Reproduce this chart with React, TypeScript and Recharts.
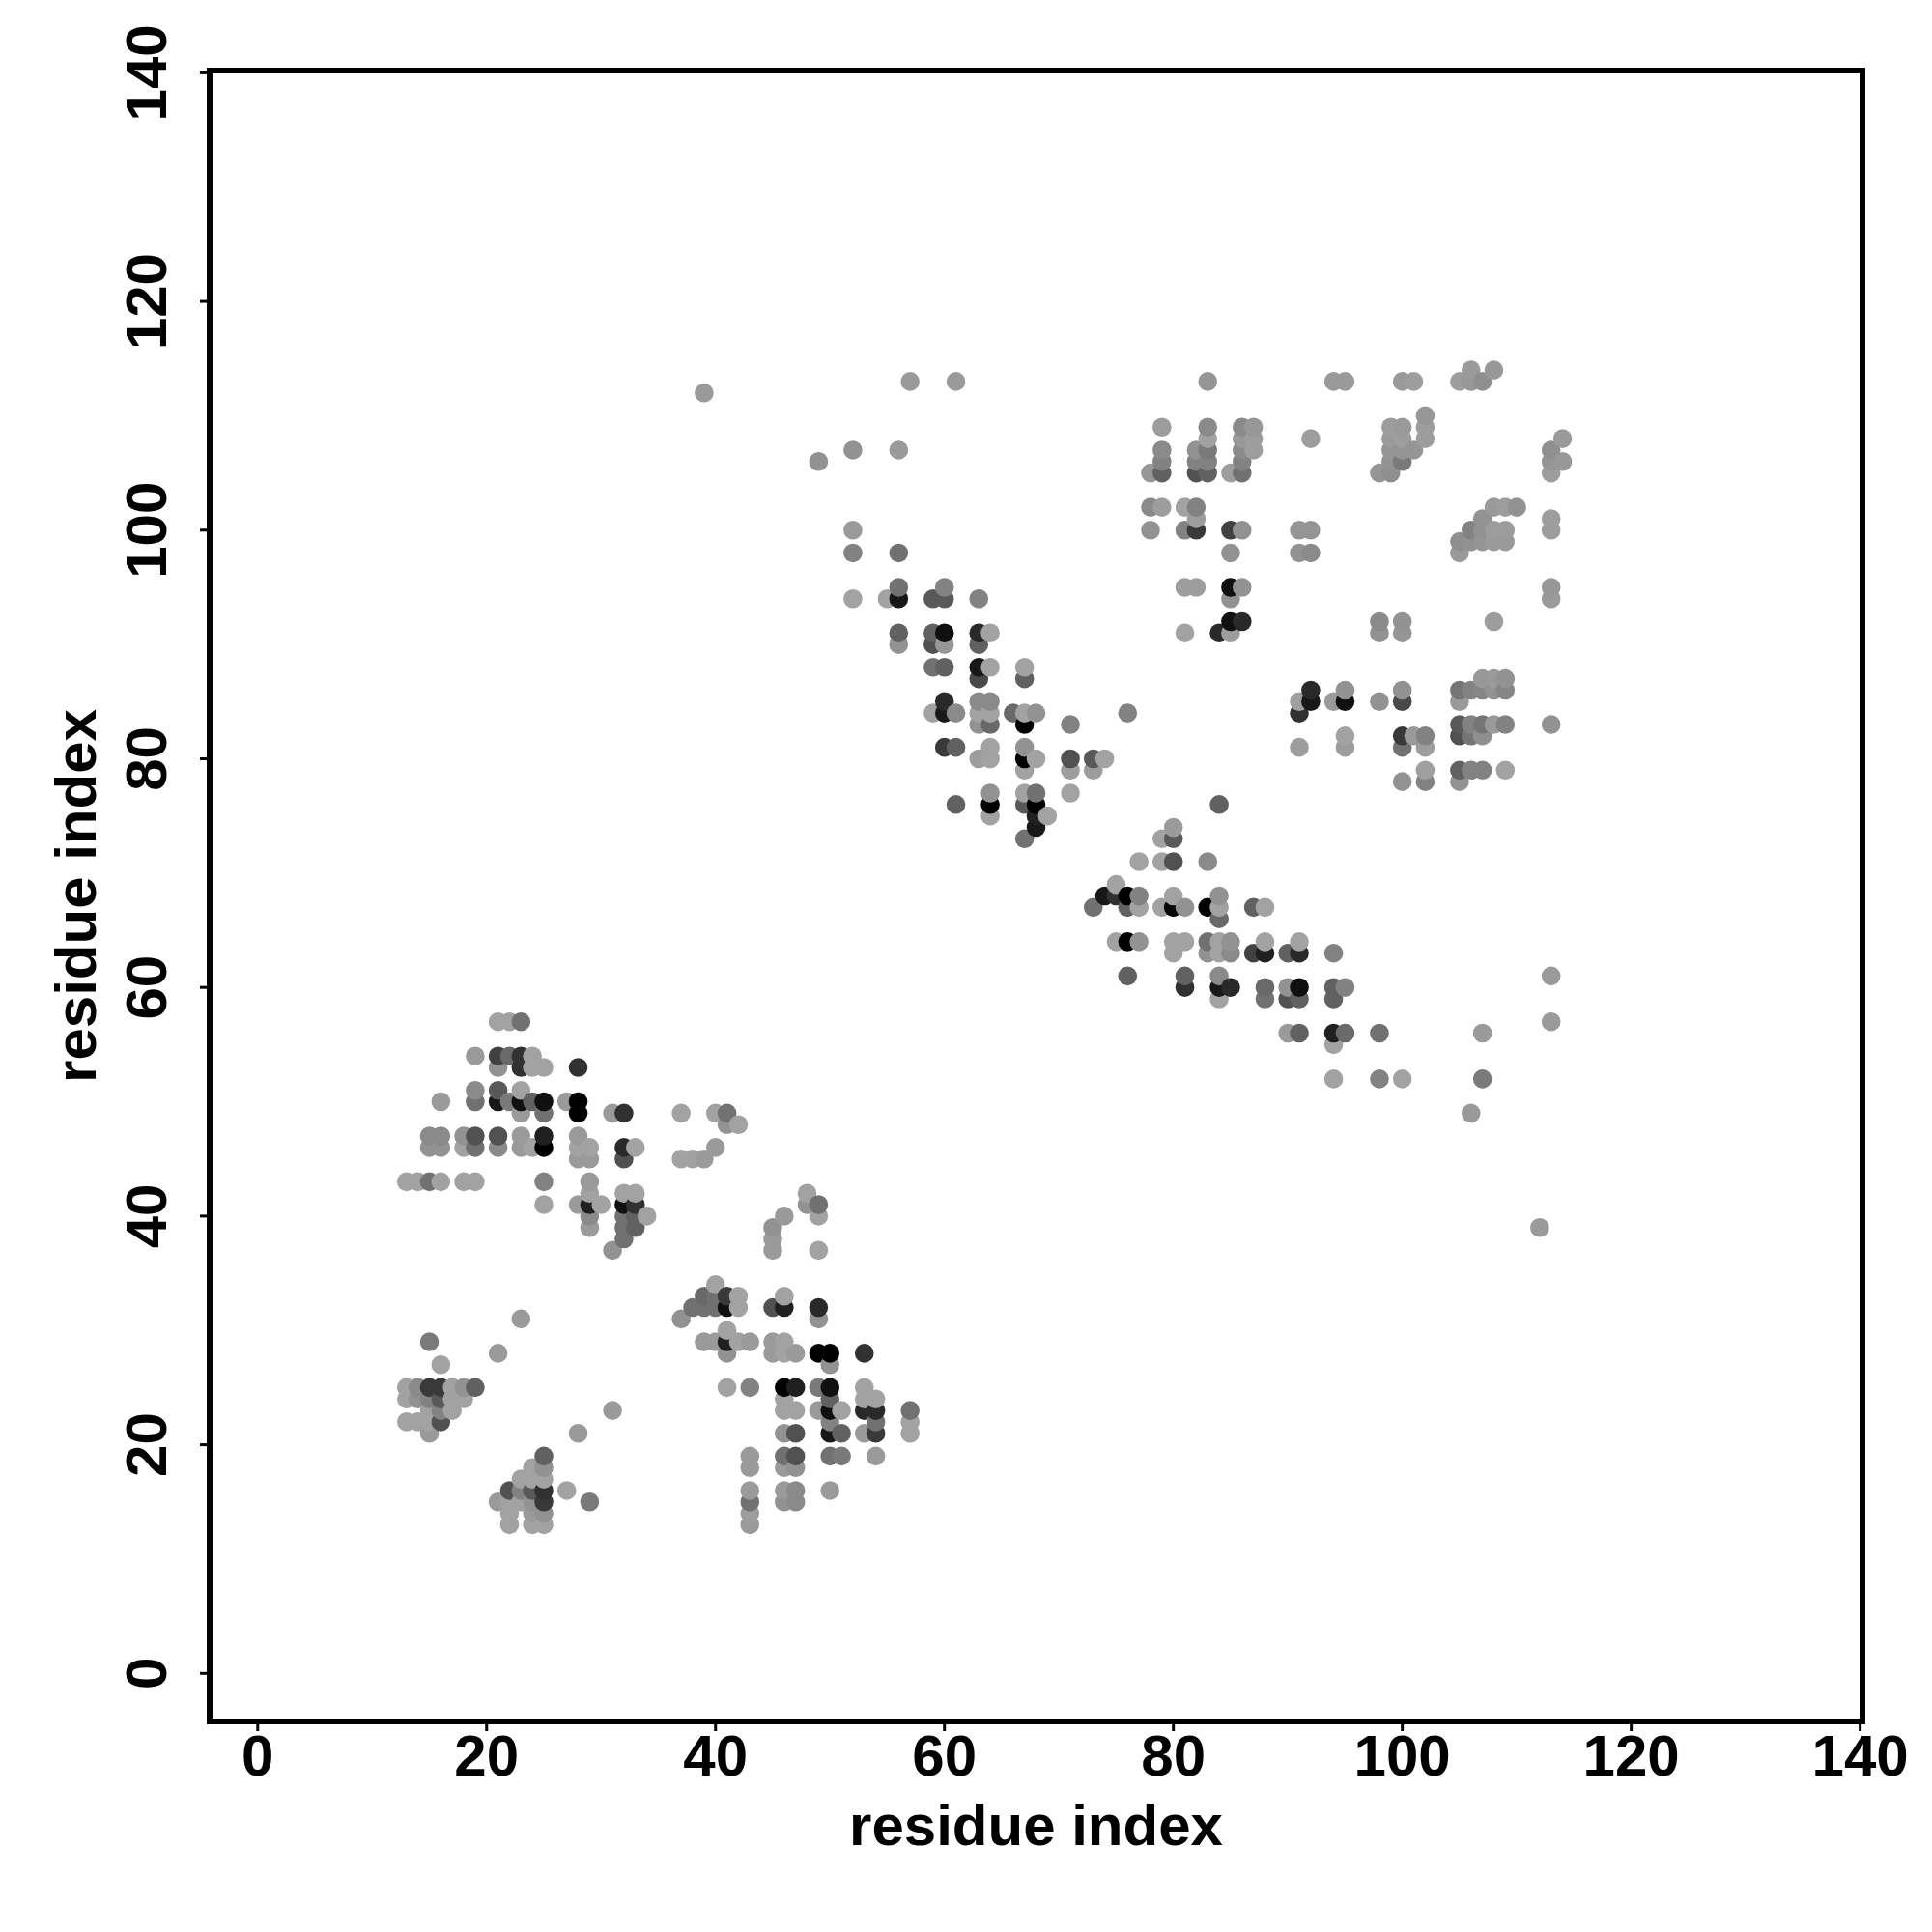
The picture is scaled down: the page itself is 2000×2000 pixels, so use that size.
import { ScatterChart, Scatter, XAxis, YAxis, ReferenceArea } from 'recharts';

// each contact: [residue i, residue j, darkness 0 (faint) .. 10 (strong)]
type Contact = [number, number, number];

const axisTicks = [0, 20, 40, 60, 80, 100, 120, 140];
const axisDomain = [-4.2, 140.2];

const upperSheetContacts: Contact[] = [
   [21, 57, 0], [22, 57, 0], [23, 57, 3],
   [19, 54, 0.5], [21, 54, 6], [22, 54, 3.5], [23, 54, 7], [24, 54, 0],
   [21, 53, 1], [23, 53, 7], [24, 53, 0], [25, 53, 0], [28, 53, 7],
   [19, 51, 1.5], [21, 51, 4.5], [23, 51, 0],
   [16, 50, 0.5], [19, 50, 3], [21, 50, 8.5], [22, 50, 2.5], [23, 50, 9], [24, 50, 4], [25, 50, 9], [27, 50, 0.5], [28, 50, 10],
   [23, 49, 0.5], [25, 49, 3], [28, 49, 10], [31, 49, 0.5], [32, 49, 7], [37, 49, 0], [40, 49, 0], [41, 49, 3],
   [41, 48, 1], [42, 48, 0],
   [15, 47, 1.5], [16, 47, 1.5], [18, 47, 1], [19, 47, 5], [21, 47, 5], [23, 47, 0.5], [25, 47, 8], [28, 47, 0.5],
   [15, 46, 1], [16, 46, 1], [18, 46, 0], [19, 46, 3], [21, 46, 1.5], [23, 46, 0.5], [24, 46, 0], [25, 46, 10], [28, 46, 0], [29, 46, 0], [32, 46, 7.5], [33, 46, 0], [40, 46, 0.5],
   [28, 45, 0.5], [29, 45, 0.5], [32, 45, 5], [37, 45, 0], [38, 45, 0], [39, 45, 0.5],
   [13, 43, 0], [14, 43, 0], [15, 43, 3], [16, 43, 0], [18, 43, 0], [19, 43, 0], [25, 43, 2], [29, 43, 0.5],
   [29, 42, 0], [32, 42, 0], [33, 42, 0],
   [25, 41, 0], [28, 41, 0.5], [29, 41, 8], [30, 41, 0], [32, 41, 9], [33, 41, 7],
   [29, 40, 1.5], [32, 40, 3], [33, 40, 4], [34, 40, 0],
   [29, 39, 0.5], [32, 39, 3], [33, 39, 4], [32, 38, 3], [31, 37, 1],
];

const lowerLeftContacts: Contact[] = [
   [15, 29, 2.5], [16, 27, 0], [21, 28, 0.5], [23, 31, 0.5], [31, 23, 0.5], [28, 21, 0.5],
   [13, 25, 0], [14, 25, 1.5], [15, 25, 6.5], [16, 25, 6.5], [17, 25, 0], [18, 25, 1], [19, 25, 4],
   [13, 24, 0], [14, 24, 1], [15, 24, 2], [16, 24, 4.5], [17, 24, 0], [18, 24, 0],
   [15, 23, 0], [16, 23, 2], [17, 23, 0],
   [13, 22, 0], [14, 22, 0], [15, 22, 0], [16, 22, 5],
   [15, 21, 0.5],
   [25, 19, 4], [24, 18, 0], [25, 18, 1], [23, 17, 0], [24, 17, 0], [25, 17, 0],
   [22, 16, 5], [23, 16, 2], [24, 16, 4.5], [25, 16, 7], [27, 16, 0],
   [21, 15, 0.5], [22, 15, 0], [23, 15, 0], [24, 15, 1], [25, 15, 6.5], [29, 15, 2.5],
   [22, 14, 0], [24, 14, 0.5], [25, 14, 1],
   [22, 13, 0], [24, 13, 0], [25, 13, 0],
];

const lowerMiddleContacts: Contact[] = [
   [48, 42, 0], [48, 41, 1], [49, 41, 3], [49, 40, 0], [46, 40, 0.5], [45, 39, 1], [45, 38, 0.5], [45, 37, 0.5], [49, 37, 0],
   [40, 34, 0],
   [39, 33, 3.5], [40, 33, 3], [41, 33, 6.5], [42, 33, 0], [46, 33, 0],
   [38, 32, 3], [39, 32, 3], [40, 32, 3], [41, 32, 9], [42, 32, 0], [45, 32, 5], [46, 32, 8], [49, 32, 7.5],
   [37, 31, 1], [49, 31, 1], [41, 30, 0],
   [39, 29, 0.5], [40, 29, 0.5], [41, 29, 8], [42, 29, 0], [43, 29, 0.5], [45, 29, 0.5], [46, 29, 0],
   [41, 28, 1], [45, 28, 0.5], [46, 28, 0], [47, 28, 0.5], [49, 28, 10], [50, 28, 10], [53, 28, 7],
   [50, 27, 1],
   [41, 25, 0], [43, 25, 2], [46, 25, 10], [47, 25, 8], [49, 25, 2.5], [50, 25, 9], [53, 25, 0],
   [46, 24, 0], [50, 24, 4], [53, 24, 0], [54, 24, 0],
   [46, 23, 0], [47, 23, 0], [49, 23, 0.5], [50, 23, 9], [51, 23, 0], [53, 23, 7.5], [54, 23, 7.5], [57, 23, 3],
   [50, 22, 2], [54, 22, 3], [57, 22, 0],
   [46, 21, 1], [47, 21, 5], [50, 21, 8.5], [51, 21, 4], [53, 21, 0.5], [54, 21, 6.5], [57, 21, 0],
   [43, 19, 0.5], [46, 19, 3], [47, 19, 5], [50, 19, 3], [51, 19, 2.5], [54, 19, 0.5],
   [43, 18, 0.5], [46, 18, 0.5], [47, 18, 1],
   [43, 16, 0.5], [46, 16, 0.5], [47, 16, 1.5], [50, 16, 0.5],
   [43, 15, 3], [46, 15, 1], [47, 15, 1.5],
   [43, 14, 0.3], [43, 13, 0.5],
];

const centralBandContacts: Contact[] = [
   [39, 112, 0.5], [57, 113, 0.5], [61, 113, 0.5], [49, 106, 1], [52, 107, 1], [56, 107, 0.5], [52, 100, 0.5],
   [52, 98, 2], [56, 98, 3],
   [56, 95, 3], [60, 95, 2],
   [52, 94, 0], [55, 94, 0], [56, 94, 8.5], [59, 94, 4.5], [60, 94, 4.5], [63, 94, 2],
   [56, 91, 4], [59, 91, 4], [60, 91, 9], [63, 91, 7.5], [64, 91, 0],
   [56, 90, 1], [59, 90, 5], [60, 90, 0.7], [63, 90, 4],
   [59, 88, 3], [60, 88, 4], [63, 88, 8.5], [64, 88, 0], [67, 88, 0],
   [63, 87, 5.5], [67, 87, 4],
   [60, 85, 7.5], [63, 85, 1.5], [64, 85, 1.5],
   [59, 84, 0], [60, 84, 8.5], [61, 84, 1.5], [63, 84, 0], [64, 84, 0], [66, 84, 3.5], [67, 84, 0], [68, 84, 1], [76, 84, 2],
   [63, 83, 1], [64, 83, 3.5], [67, 83, 10], [71, 83, 2],
   [60, 81, 6.5], [61, 81, 4], [64, 81, 0], [67, 81, 1],
   [63, 80, 0.3], [64, 80, 0], [67, 80, 10], [68, 80, 0], [71, 80, 5], [73, 80, 4.5], [74, 80, 0],
   [67, 79, 0], [71, 79, 0.3], [73, 79, 0.3],
   [64, 77, 1], [67, 77, 0], [68, 77, 3], [71, 77, 0],
   [61, 76, 4], [64, 76, 10], [67, 76, 4.5], [68, 76, 10],
   [64, 75, 0], [68, 75, 8], [69, 75, 0], [68, 74, 8.5], [67, 73, 3],
];

const diagonalContacts: Contact[] = [
   [84, 76, 4],
   [80, 74, 0.5], [79, 73, 0], [80, 73, 4.5], [77, 71, 0], [79, 71, 0], [80, 71, 5], [83, 71, 1.5],
   [75, 69, 0],
   [74, 68, 8.5], [75, 68, 7], [76, 68, 10], [77, 68, 2], [80, 68, 0], [84, 68, 1],
   [73, 67, 3], [76, 67, 4], [77, 67, 0], [79, 67, 0], [80, 67, 9.5], [81, 67, 1], [83, 67, 10], [84, 67, 0], [87, 67, 4], [88, 67, 0],
   [84, 66, 3.5],
   [75, 64, 0], [76, 64, 10], [77, 64, 1], [80, 64, 0], [81, 64, 0], [83, 64, 3], [84, 64, 0], [85, 64, 1], [88, 64, 0], [91, 64, 0],
   [80, 63, 0], [83, 63, 1], [84, 63, 0], [85, 63, 1.5], [87, 63, 6], [88, 63, 8], [90, 63, 4], [91, 63, 7.5], [94, 63, 2],
   [76, 61, 4], [81, 61, 4], [84, 61, 1.5], [113, 61, 0.5],
   [81, 60, 7], [84, 60, 8.5], [85, 60, 7.5], [88, 60, 3.5], [90, 60, 1], [91, 60, 9], [94, 60, 4], [95, 60, 2],
   [84, 59, 0], [88, 59, 3], [90, 59, 5], [91, 59, 4], [94, 59, 4],
   [113, 57, 0.5],
   [90, 56, 0.5], [91, 56, 4], [94, 56, 8], [95, 56, 3.5], [98, 56, 3], [107, 56, 0.5],
   [94, 55, 0],
   [94, 52, 0], [98, 52, 2], [100, 52, 0], [107, 52, 2.5],
   [106, 49, 0.5], [112, 39, 0.5],
];

const upperMiddleContacts: Contact[] = [
   [83, 113, 0.8],
   [79, 109, 0.3], [83, 109, 1.5], [86, 109, 1.5], [87, 109, 0.7],
   [83, 108, 0], [86, 108, 0.7], [87, 108, 0.3], [92, 108, 0.3],
   [79, 107, 1.5], [82, 107, 1], [83, 107, 2.5], [86, 107, 1.5], [87, 107, 0.3],
   [79, 106, 2], [82, 106, 2], [83, 106, 2], [86, 106, 2],
   [78, 105, 0.7], [79, 105, 4], [82, 105, 5], [83, 105, 4], [85, 105, 0.3], [86, 105, 3],
   [78, 102, 1.5], [79, 102, 0.3], [81, 102, 0], [82, 102, 2],
   [82, 101, 0.3],
   [78, 100, 1], [81, 100, 2], [82, 100, 6.5], [85, 100, 6], [86, 100, 1], [91, 100, 0.8], [92, 100, 0.8],
   [85, 98, 1], [91, 98, 1], [92, 98, 1.5],
   [81, 95, 0.3], [82, 95, 0.3], [85, 95, 9], [86, 95, 1],
   [85, 94, 1],
   [85, 92, 9], [86, 92, 7.5],
   [81, 91, 0], [84, 91, 7.5], [85, 91, 0.3],
];

const upperRightContacts: Contact[] = [
   [94, 113, 0.5], [95, 113, 0.5], [100, 113, 0.5], [101, 113, 0.3], [105, 113, 0.3], [106, 113, 0.7], [107, 113, 1.2],
   [106, 114, 0.5], [108, 114, 0.6],
   [102, 110, 0.7],
   [99, 109, 0.3], [100, 109, 0.5], [102, 109, 0.3],
   [99, 108, 0.5], [100, 108, 0.3], [102, 108, 0.3], [114, 108, 0.5],
   [99, 107, 0.8], [100, 107, 0.8], [101, 107, 0.8], [113, 107, 1.2],
   [99, 106, 1], [100, 106, 2.5], [113, 106, 0.8], [114, 106, 0.6],
   [98, 105, 0.8], [99, 105, 1.2], [113, 105, 0.3],
   [108, 102, 0.5], [109, 102, 0.3], [110, 102, 1],
   [107, 101, 1], [113, 101, 0.3],
   [106, 100, 2], [107, 100, 1], [108, 100, 0.4], [109, 100, 0.4], [113, 100, 0.3],
   [105, 99, 1.2], [106, 99, 1], [107, 99, 0.8], [108, 99, 0.5], [109, 99, 0.5],
   [105, 98, 0.5],
   [113, 95, 0.7], [113, 94, 0.5],
   [98, 92, 1.5], [100, 92, 1], [108, 92, 0.3],
   [98, 91, 1], [100, 91, 0.8],
   [107, 87, 0.6], [108, 87, 0.5], [109, 87, 1],
   [92, 86, 7.5], [95, 86, 1], [100, 86, 1], [105, 86, 2.8], [106, 86, 2], [107, 86, 1.8], [108, 86, 1], [109, 86, 1.8],
   [91, 85, 0.1], [92, 85, 8.5], [94, 85, 0.5], [95, 85, 9], [98, 85, 1], [100, 85, 5.5], [105, 85, 0.5],
   [91, 84, 7],
   [105, 83, 4.5], [106, 83, 2], [107, 83, 2.8], [108, 83, 0.5], [109, 83, 2], [113, 83, 1],
   [95, 82, 0], [100, 82, 6.5], [101, 82, 0.5], [102, 82, 2], [105, 82, 5], [106, 82, 2.8], [107, 82, 1.2],
   [91, 81, 0.3], [95, 81, 0.3], [100, 81, 3], [102, 81, 0.3],
   [102, 79, 0.2], [105, 79, 4], [106, 79, 2], [107, 79, 2], [109, 79, 0],
   [100, 78, 1], [102, 78, 2], [105, 78, 1],
];

// drawn left to right, bottom to top, so later residues sit on top
const contacts = [
   ...upperSheetContacts,
   ...lowerLeftContacts,
   ...lowerMiddleContacts,
   ...centralBandContacts,
   ...diagonalContacts,
   ...upperMiddleContacts,
   ...upperRightContacts,
]
   .map(([i, j, level]) => ({ i, j, level }))
   .sort((a, b) => a.i - b.i || a.j - b.j);

const FONT = '"Liberation Sans", Arial, sans-serif';

function greyFor(level: number) {
   const g = Math.round(162 * (1 - level / 10));
   return `rgb(${g},${g},${g})`;
}

function ContactDot(props: any) {
   return <circle cx={props.cx} cy={props.cy} r={9.8} fill={greyFor(props.payload.level)} />;
}

function XTick({ x, y, payload }: any) {
   return (
      <text x={x} y={y} dy={44} textAnchor='middle' fontFamily={FONT} fontWeight='bold' fontSize={60} fill='#000'>
         {payload.value}
      </text>
   );
}

function YTick({ x, y, payload }: any) {
   return (
      <text
         transform={`translate(${x - 33},${y}) rotate(-90)`}
         textAnchor='middle'
         fontFamily={FONT}
         fontWeight='bold'
         fontSize={60}
         fill='#000'
      >
         {payload.value}
      </text>
   );
}

const titleStyle = { fontFamily: FONT, fontWeight: 'bold', fontSize: 60, fill: '#000' };

export default function App() {
   return (
      <div style={{ position: 'absolute', left: 0, top: 0, width: 2000, height: 2000, background: '#fff' }}>
         <ScatterChart width={2000} height={2000} margin={{ top: 73, right: 72, bottom: 0, left: 0 }}>
            <XAxis
               type='number'
               dataKey='i'
               domain={axisDomain}
               ticks={axisTicks}
               interval={0}
               allowDataOverflow
               height={218}
               axisLine={false}
               tickSize={10}
               tickLine={{ stroke: '#000', strokeWidth: 3 }}
               tick={<XTick />}
               label={{ value: 'residue index', position: 'insideBottom', offset: 90, style: titleStyle }}
            />
            <YAxis
               type='number'
               dataKey='j'
               domain={axisDomain}
               ticks={axisTicks}
               interval={0}
               allowDataOverflow
               width={217}
               axisLine={false}
               tickSize={10}
               tickLine={{ stroke: '#000', strokeWidth: 3 }}
               tick={<YTick />}
               label={{ value: 'residue index', angle: -90, position: 'insideLeft', offset: 78, style: { ...titleStyle, textAnchor: 'middle' } }}
            />
            <ReferenceArea
               x1={axisDomain[0]}
               x2={axisDomain[1]}
               y1={axisDomain[0]}
               y2={axisDomain[1]}
               fill='none'
               stroke='#000'
               strokeWidth={6}
               ifOverflow='visible'
            />
            <Scatter data={contacts} shape={ContactDot} isAnimationActive={false} />
         </ScatterChart>
      </div>
   );
}
